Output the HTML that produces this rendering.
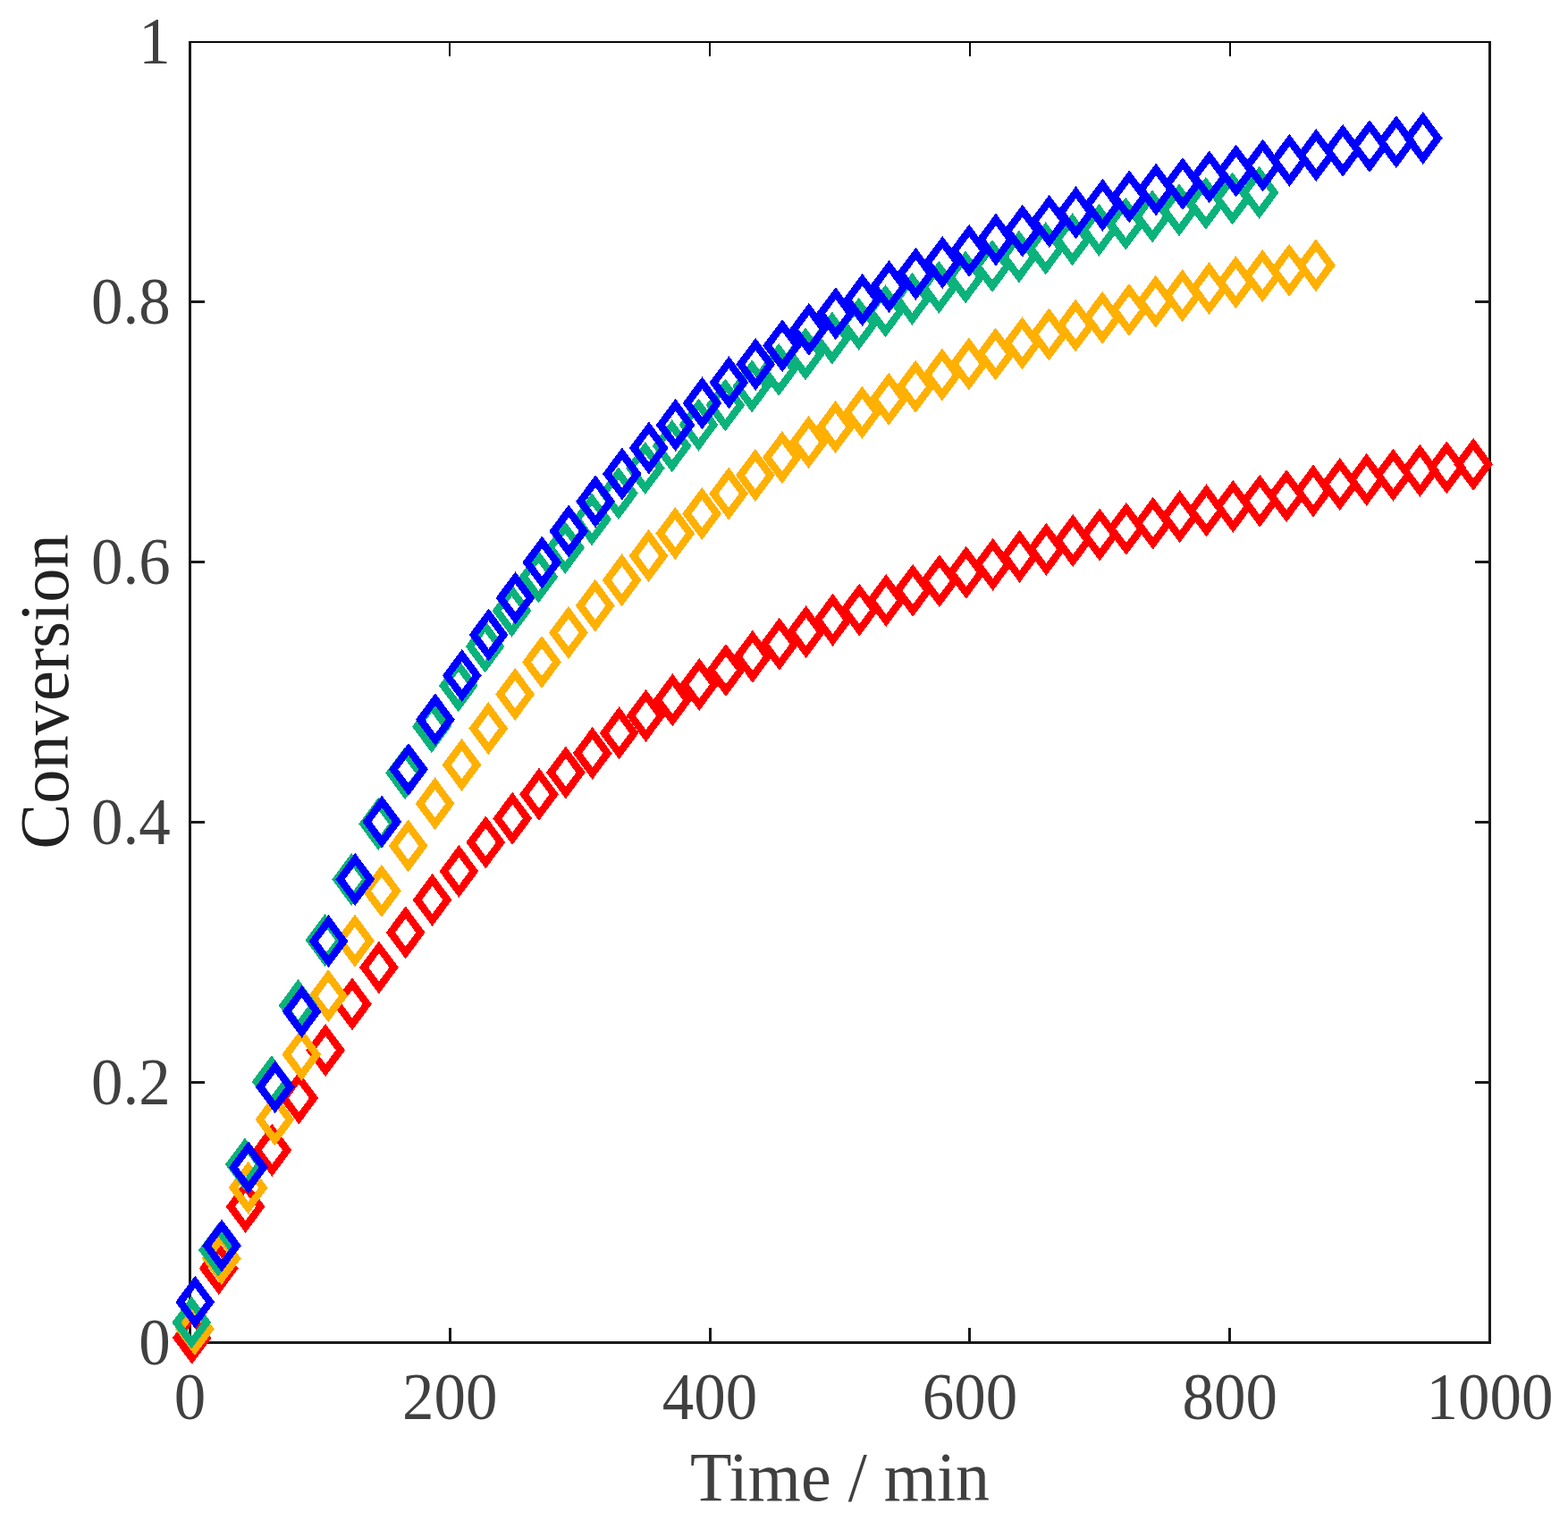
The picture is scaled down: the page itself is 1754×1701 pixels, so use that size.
<!DOCTYPE html><html><head><meta charset="utf-8"><title>Conversion vs Time</title><style>html,body{margin:0;padding:0;background:#fff;}svg{display:block;}text{font-family:"Liberation Serif","Times New Roman",serif;}</style></head><body>
<svg width="1754" height="1701" viewBox="0 0 1754 1701">
<rect width="1754" height="1701" fill="#fff"/>
<g shape-rendering="crispEdges"><rect x="211" y="46" width="3" height="1457" fill="#1a1a1a"/><rect x="1665" y="46" width="3" height="1457" fill="#1a1a1a"/><rect x="211" y="1500" width="1457" height="3" fill="#1a1a1a"/><rect x="211" y="46" width="1457" height="2" fill="#080808"/><rect x="501.8" y="1485" width="3" height="15" fill="#1a1a1a"/><rect x="502.3" y="48" width="2" height="15" fill="#080808"/><rect x="792.6" y="1485" width="3" height="15" fill="#1a1a1a"/><rect x="793.1" y="48" width="2" height="15" fill="#080808"/><rect x="1083.4" y="1485" width="3" height="15" fill="#1a1a1a"/><rect x="1083.9" y="48" width="2" height="15" fill="#080808"/><rect x="1374.2" y="1485" width="3" height="15" fill="#1a1a1a"/><rect x="1374.7" y="48" width="2" height="15" fill="#080808"/><rect x="214" y="1209.1" width="15" height="3" fill="#1a1a1a"/><rect x="1650" y="1209.1" width="15" height="3" fill="#1a1a1a"/><rect x="214" y="918.2" width="15" height="3" fill="#1a1a1a"/><rect x="1650" y="918.2" width="15" height="3" fill="#1a1a1a"/><rect x="214" y="627.3" width="15" height="3" fill="#1a1a1a"/><rect x="1650" y="627.3" width="15" height="3" fill="#1a1a1a"/><rect x="214" y="336.4" width="15" height="3" fill="#1a1a1a"/><rect x="1650" y="336.4" width="15" height="3" fill="#1a1a1a"/></g>
<path d="M214.8 1473.6l16.75 22.6l-16.75 22.6l-16.75 -22.6zM244.7 1395.9l16.75 22.6l-16.75 22.6l-16.75 -22.6zM274.6 1326.8l16.75 22.6l-16.75 22.6l-16.75 -22.6zM304.4 1263.7l16.75 22.6l-16.75 22.6l-16.75 -22.6zM334.3 1205.4l16.75 22.6l-16.75 22.6l-16.75 -22.6zM364.1 1151.9l16.75 22.6l-16.75 22.6l-16.75 -22.6zM394.0 1100.3l16.75 22.6l-16.75 22.6l-16.75 -22.6zM423.9 1059.3l16.75 22.6l-16.75 22.6l-16.75 -22.6zM453.7 1020.3l16.75 22.6l-16.75 22.6l-16.75 -22.6zM483.6 983.8l16.75 22.6l-16.75 22.6l-16.75 -22.6zM513.4 951.8l16.75 22.6l-16.75 22.6l-16.75 -22.6zM543.3 919.4l16.75 22.6l-16.75 22.6l-16.75 -22.6zM573.2 892.7l16.75 22.6l-16.75 22.6l-16.75 -22.6zM603.0 865.7l16.75 22.6l-16.75 22.6l-16.75 -22.6zM632.9 841.3l16.75 22.6l-16.75 22.6l-16.75 -22.6zM662.7 819.8l16.75 22.6l-16.75 22.6l-16.75 -22.6zM692.6 797.2l16.75 22.6l-16.75 22.6l-16.75 -22.6zM722.5 777.8l16.75 22.6l-16.75 22.6l-16.75 -22.6zM752.3 760.2l16.75 22.6l-16.75 22.6l-16.75 -22.6zM782.2 742.9l16.75 22.6l-16.75 22.6l-16.75 -22.6zM812.0 726.9l16.75 22.6l-16.75 22.6l-16.75 -22.6zM841.9 711.6l16.75 22.6l-16.75 22.6l-16.75 -22.6zM871.8 697.7l16.75 22.6l-16.75 22.6l-16.75 -22.6zM901.6 684.1l16.75 22.6l-16.75 22.6l-16.75 -22.6zM931.5 670.7l16.75 22.6l-16.75 22.6l-16.75 -22.6zM961.3 659.5l16.75 22.6l-16.75 22.6l-16.75 -22.6zM991.2 648.9l16.75 22.6l-16.75 22.6l-16.75 -22.6zM1021.1 637.7l16.75 22.6l-16.75 22.6l-16.75 -22.6zM1050.9 627.1l16.75 22.6l-16.75 22.6l-16.75 -22.6zM1080.8 617.7l16.75 22.6l-16.75 22.6l-16.75 -22.6zM1110.6 608.7l16.75 22.6l-16.75 22.6l-16.75 -22.6zM1140.5 599.7l16.75 22.6l-16.75 22.6l-16.75 -22.6zM1170.4 591.7l16.75 22.6l-16.75 22.6l-16.75 -22.6zM1200.2 582.0l16.75 22.6l-16.75 22.6l-16.75 -22.6zM1230.1 575.4l16.75 22.6l-16.75 22.6l-16.75 -22.6zM1259.9 568.7l16.75 22.6l-16.75 22.6l-16.75 -22.6zM1289.8 562.6l16.75 22.6l-16.75 22.6l-16.75 -22.6zM1319.7 555.1l16.75 22.6l-16.75 22.6l-16.75 -22.6zM1349.5 548.3l16.75 22.6l-16.75 22.6l-16.75 -22.6zM1379.4 543.7l16.75 22.6l-16.75 22.6l-16.75 -22.6zM1409.2 537.6l16.75 22.6l-16.75 22.6l-16.75 -22.6zM1439.1 532.0l16.75 22.6l-16.75 22.6l-16.75 -22.6zM1469.0 526.4l16.75 22.6l-16.75 22.6l-16.75 -22.6zM1498.8 518.9l16.75 22.6l-16.75 22.6l-16.75 -22.6zM1528.7 513.8l16.75 22.6l-16.75 22.6l-16.75 -22.6zM1558.5 508.6l16.75 22.6l-16.75 22.6l-16.75 -22.6zM1588.4 503.8l16.75 22.6l-16.75 22.6l-16.75 -22.6zM1618.3 500.3l16.75 22.6l-16.75 22.6l-16.75 -22.6zM1648.1 496.7l16.75 22.6l-16.75 22.6l-16.75 -22.6z" fill="none" stroke="#ff0000" stroke-width="8.3" stroke-linejoin="miter" stroke-miterlimit="10" shape-rendering="crispEdges"/>
<path d="M217.9 1463.8l16.75 22.6l-16.75 22.6l-16.75 -22.6zM247.7 1384.8l16.75 22.6l-16.75 22.6l-16.75 -22.6zM277.6 1305.7l16.75 22.6l-16.75 22.6l-16.75 -22.6zM307.4 1229.4l16.75 22.6l-16.75 22.6l-16.75 -22.6zM337.3 1156.7l16.75 22.6l-16.75 22.6l-16.75 -22.6zM367.2 1091.2l16.75 22.6l-16.75 22.6l-16.75 -22.6zM397.0 1029.5l16.75 22.6l-16.75 22.6l-16.75 -22.6zM426.9 973.8l16.75 22.6l-16.75 22.6l-16.75 -22.6zM456.7 923.3l16.75 22.6l-16.75 22.6l-16.75 -22.6zM486.6 876.2l16.75 22.6l-16.75 22.6l-16.75 -22.6zM516.5 832.8l16.75 22.6l-16.75 22.6l-16.75 -22.6zM546.3 792.0l16.75 22.6l-16.75 22.6l-16.75 -22.6zM576.2 753.9l16.75 22.6l-16.75 22.6l-16.75 -22.6zM606.0 717.9l16.75 22.6l-16.75 22.6l-16.75 -22.6zM635.9 684.9l16.75 22.6l-16.75 22.6l-16.75 -22.6zM665.8 654.7l16.75 22.6l-16.75 22.6l-16.75 -22.6zM695.6 626.2l16.75 22.6l-16.75 22.6l-16.75 -22.6zM725.5 599.0l16.75 22.6l-16.75 22.6l-16.75 -22.6zM755.3 574.0l16.75 22.6l-16.75 22.6l-16.75 -22.6zM785.2 551.9l16.75 22.6l-16.75 22.6l-16.75 -22.6zM815.1 529.5l16.75 22.6l-16.75 22.6l-16.75 -22.6zM844.9 508.9l16.75 22.6l-16.75 22.6l-16.75 -22.6zM874.8 489.0l16.75 22.6l-16.75 22.6l-16.75 -22.6zM904.6 471.9l16.75 22.6l-16.75 22.6l-16.75 -22.6zM934.5 455.0l16.75 22.6l-16.75 22.6l-16.75 -22.6zM964.4 438.7l16.75 22.6l-16.75 22.6l-16.75 -22.6zM994.2 423.7l16.75 22.6l-16.75 22.6l-16.75 -22.6zM1024.1 409.8l16.75 22.6l-16.75 22.6l-16.75 -22.6zM1053.9 396.4l16.75 22.6l-16.75 22.6l-16.75 -22.6zM1083.8 384.4l16.75 22.6l-16.75 22.6l-16.75 -22.6zM1113.7 373.4l16.75 22.6l-16.75 22.6l-16.75 -22.6zM1143.5 361.2l16.75 22.6l-16.75 22.6l-16.75 -22.6zM1173.4 351.5l16.75 22.6l-16.75 22.6l-16.75 -22.6zM1203.2 341.4l16.75 22.6l-16.75 22.6l-16.75 -22.6zM1233.1 332.8l16.75 22.6l-16.75 22.6l-16.75 -22.6zM1263.0 324.0l16.75 22.6l-16.75 22.6l-16.75 -22.6zM1292.8 314.6l16.75 22.6l-16.75 22.6l-16.75 -22.6zM1322.7 308.0l16.75 22.6l-16.75 22.6l-16.75 -22.6zM1352.5 300.0l16.75 22.6l-16.75 22.6l-16.75 -22.6zM1382.4 293.1l16.75 22.6l-16.75 22.6l-16.75 -22.6zM1412.3 285.9l16.75 22.6l-16.75 22.6l-16.75 -22.6zM1442.1 279.7l16.75 22.6l-16.75 22.6l-16.75 -22.6zM1472.0 274.1l16.75 22.6l-16.75 22.6l-16.75 -22.6z" fill="none" stroke="#ffb000" stroke-width="8.3" stroke-linejoin="miter" stroke-miterlimit="10" shape-rendering="crispEdges"/>
<path d="M214.2 1456.4l16.75 22.6l-16.75 22.6l-16.75 -22.6zM244.0 1375.4l16.75 22.6l-16.75 22.6l-16.75 -22.6zM273.9 1279.6l16.75 22.6l-16.75 22.6l-16.75 -22.6zM303.8 1187.1l16.75 22.6l-16.75 22.6l-16.75 -22.6zM333.6 1101.9l16.75 22.6l-16.75 22.6l-16.75 -22.6zM363.5 1028.8l16.75 22.6l-16.75 22.6l-16.75 -22.6zM393.3 960.9l16.75 22.6l-16.75 22.6l-16.75 -22.6zM423.2 898.8l16.75 22.6l-16.75 22.6l-16.75 -22.6zM453.1 842.0l16.75 22.6l-16.75 22.6l-16.75 -22.6zM482.9 790.0l16.75 22.6l-16.75 22.6l-16.75 -22.6zM512.8 744.2l16.75 22.6l-16.75 22.6l-16.75 -22.6zM542.6 700.4l16.75 22.6l-16.75 22.6l-16.75 -22.6zM572.5 660.4l16.75 22.6l-16.75 22.6l-16.75 -22.6zM602.4 622.5l16.75 22.6l-16.75 22.6l-16.75 -22.6zM632.2 589.9l16.75 22.6l-16.75 22.6l-16.75 -22.6zM662.1 558.2l16.75 22.6l-16.75 22.6l-16.75 -22.6zM691.9 529.1l16.75 22.6l-16.75 22.6l-16.75 -22.6zM721.8 500.9l16.75 22.6l-16.75 22.6l-16.75 -22.6zM751.7 476.2l16.75 22.6l-16.75 22.6l-16.75 -22.6zM781.5 452.5l16.75 22.6l-16.75 22.6l-16.75 -22.6zM811.4 430.5l16.75 22.6l-16.75 22.6l-16.75 -22.6zM841.2 409.3l16.75 22.6l-16.75 22.6l-16.75 -22.6zM871.1 390.8l16.75 22.6l-16.75 22.6l-16.75 -22.6zM901.0 373.2l16.75 22.6l-16.75 22.6l-16.75 -22.6zM930.8 355.5l16.75 22.6l-16.75 22.6l-16.75 -22.6zM960.7 339.7l16.75 22.6l-16.75 22.6l-16.75 -22.6zM990.5 325.2l16.75 22.6l-16.75 22.6l-16.75 -22.6zM1020.4 311.6l16.75 22.6l-16.75 22.6l-16.75 -22.6zM1050.3 298.7l16.75 22.6l-16.75 22.6l-16.75 -22.6zM1080.1 287.3l16.75 22.6l-16.75 22.6l-16.75 -22.6zM1110.0 274.9l16.75 22.6l-16.75 22.6l-16.75 -22.6zM1139.8 264.4l16.75 22.6l-16.75 22.6l-16.75 -22.6zM1169.7 255.2l16.75 22.6l-16.75 22.6l-16.75 -22.6zM1199.6 245.2l16.75 22.6l-16.75 22.6l-16.75 -22.6zM1229.4 234.6l16.75 22.6l-16.75 22.6l-16.75 -22.6zM1259.3 227.6l16.75 22.6l-16.75 22.6l-16.75 -22.6zM1289.1 219.3l16.75 22.6l-16.75 22.6l-16.75 -22.6zM1319.0 212.2l16.75 22.6l-16.75 22.6l-16.75 -22.6zM1348.9 204.7l16.75 22.6l-16.75 22.6l-16.75 -22.6zM1378.7 199.4l16.75 22.6l-16.75 22.6l-16.75 -22.6zM1408.6 192.8l16.75 22.6l-16.75 22.6l-16.75 -22.6z" fill="none" stroke="#0bb27b" stroke-width="8.3" stroke-linejoin="miter" stroke-miterlimit="10" shape-rendering="crispEdges"/>
<path d="M218.2 1433.6l16.75 22.6l-16.75 22.6l-16.75 -22.6zM248.0 1370.5l16.75 22.6l-16.75 22.6l-16.75 -22.6zM277.9 1283.0l16.75 22.6l-16.75 22.6l-16.75 -22.6zM307.7 1193.0l16.75 22.6l-16.75 22.6l-16.75 -22.6zM337.6 1108.7l16.75 22.6l-16.75 22.6l-16.75 -22.6zM367.5 1030.0l16.75 22.6l-16.75 22.6l-16.75 -22.6zM397.3 960.8l16.75 22.6l-16.75 22.6l-16.75 -22.6zM427.2 896.4l16.75 22.6l-16.75 22.6l-16.75 -22.6zM457.0 837.8l16.75 22.6l-16.75 22.6l-16.75 -22.6zM486.9 782.2l16.75 22.6l-16.75 22.6l-16.75 -22.6zM516.8 732.9l16.75 22.6l-16.75 22.6l-16.75 -22.6zM546.6 687.4l16.75 22.6l-16.75 22.6l-16.75 -22.6zM576.5 646.2l16.75 22.6l-16.75 22.6l-16.75 -22.6zM606.3 606.4l16.75 22.6l-16.75 22.6l-16.75 -22.6zM636.2 571.4l16.75 22.6l-16.75 22.6l-16.75 -22.6zM666.1 538.2l16.75 22.6l-16.75 22.6l-16.75 -22.6zM695.9 507.4l16.75 22.6l-16.75 22.6l-16.75 -22.6zM725.8 478.4l16.75 22.6l-16.75 22.6l-16.75 -22.6zM755.6 452.8l16.75 22.6l-16.75 22.6l-16.75 -22.6zM785.5 428.3l16.75 22.6l-16.75 22.6l-16.75 -22.6zM815.4 405.2l16.75 22.6l-16.75 22.6l-16.75 -22.6zM845.2 384.8l16.75 22.6l-16.75 22.6l-16.75 -22.6zM875.1 364.0l16.75 22.6l-16.75 22.6l-16.75 -22.6zM904.9 345.7l16.75 22.6l-16.75 22.6l-16.75 -22.6zM934.8 328.1l16.75 22.6l-16.75 22.6l-16.75 -22.6zM964.7 312.7l16.75 22.6l-16.75 22.6l-16.75 -22.6zM994.5 297.8l16.75 22.6l-16.75 22.6l-16.75 -22.6zM1024.4 283.6l16.75 22.6l-16.75 22.6l-16.75 -22.6zM1054.2 270.9l16.75 22.6l-16.75 22.6l-16.75 -22.6zM1084.1 257.8l16.75 22.6l-16.75 22.6l-16.75 -22.6zM1114.0 245.4l16.75 22.6l-16.75 22.6l-16.75 -22.6zM1143.8 235.6l16.75 22.6l-16.75 22.6l-16.75 -22.6zM1173.7 224.8l16.75 22.6l-16.75 22.6l-16.75 -22.6zM1203.5 215.1l16.75 22.6l-16.75 22.6l-16.75 -22.6zM1233.4 206.6l16.75 22.6l-16.75 22.6l-16.75 -22.6zM1263.3 197.3l16.75 22.6l-16.75 22.6l-16.75 -22.6zM1293.1 189.4l16.75 22.6l-16.75 22.6l-16.75 -22.6zM1323.0 182.8l16.75 22.6l-16.75 22.6l-16.75 -22.6zM1352.8 175.2l16.75 22.6l-16.75 22.6l-16.75 -22.6zM1382.7 168.4l16.75 22.6l-16.75 22.6l-16.75 -22.6zM1412.6 162.4l16.75 22.6l-16.75 22.6l-16.75 -22.6zM1442.4 156.7l16.75 22.6l-16.75 22.6l-16.75 -22.6zM1472.3 150.9l16.75 22.6l-16.75 22.6l-16.75 -22.6zM1502.1 145.7l16.75 22.6l-16.75 22.6l-16.75 -22.6zM1532.0 140.8l16.75 22.6l-16.75 22.6l-16.75 -22.6zM1561.9 136.0l16.75 22.6l-16.75 22.6l-16.75 -22.6zM1591.7 131.9l16.75 22.6l-16.75 22.6l-16.75 -22.6z" fill="none" stroke="#0000ff" stroke-width="8.3" stroke-linejoin="miter" stroke-miterlimit="10" shape-rendering="crispEdges"/>
<text transform="translate(190.8 1525.7) scale(1 1.037)" text-anchor="end" font-size="71" fill="#404040">0</text><text transform="translate(190.8 1234.8) scale(1 1.037)" text-anchor="end" font-size="71" fill="#404040">0.2</text><text transform="translate(190.8 943.9) scale(1 1.037)" text-anchor="end" font-size="71" fill="#404040">0.4</text><text transform="translate(190.8 653.0) scale(1 1.037)" text-anchor="end" font-size="71" fill="#404040">0.6</text><text transform="translate(190.8 362.1) scale(1 1.037)" text-anchor="end" font-size="71" fill="#404040">0.8</text><text transform="translate(190.8 71.2) scale(1 1.037)" text-anchor="end" font-size="71" fill="#404040">1</text><text transform="translate(212.5 1587.2) scale(1 1.037)" text-anchor="middle" font-size="71" fill="#404040">0</text><text transform="translate(503.3 1587.2) scale(1 1.037)" text-anchor="middle" font-size="71" fill="#404040">200</text><text transform="translate(794.1 1587.2) scale(1 1.037)" text-anchor="middle" font-size="71" fill="#404040">400</text><text transform="translate(1084.9 1587.2) scale(1 1.037)" text-anchor="middle" font-size="71" fill="#404040">600</text><text transform="translate(1375.7 1587.2) scale(1 1.037)" text-anchor="middle" font-size="71" fill="#404040">800</text><text transform="translate(1666.5 1587.2) scale(1 1.037)" text-anchor="middle" font-size="71" fill="#404040">1000</text>
<text transform="translate(939.5 1678) scale(1 1.03)" text-anchor="middle" font-size="76.0" fill="#404040">Time / min</text>
<text transform="translate(75.6 773.5) rotate(-90) scale(1 1.034)" text-anchor="middle" font-size="76.5" fill="#222222">Conversion</text>
</svg></body></html>
